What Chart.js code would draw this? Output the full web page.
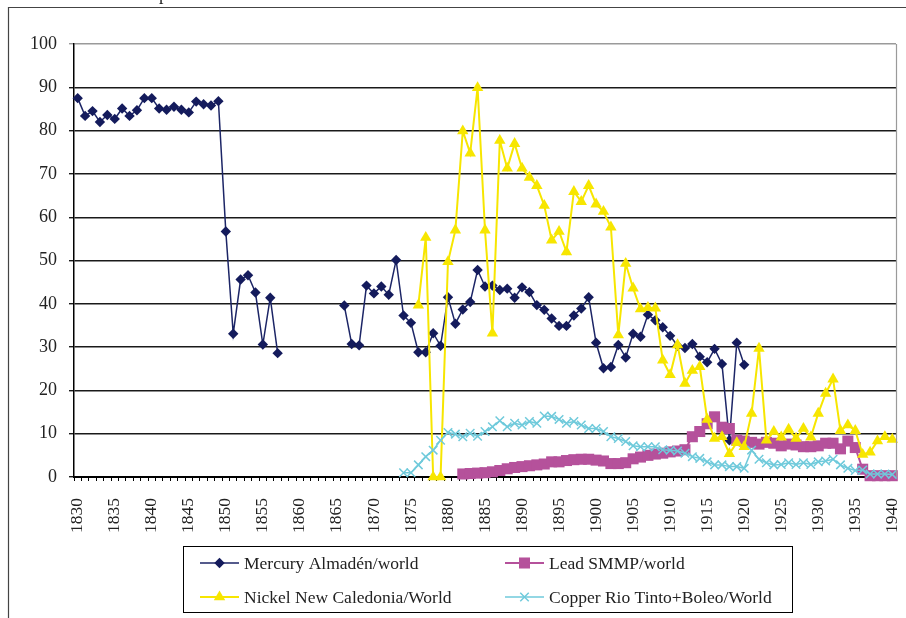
<!DOCTYPE html>
<html><head><meta charset="utf-8">
<script src="https://cdn.jsdelivr.net/npm/chart.js@4.4.1/dist/chart.umd.min.js"></script>
<style>html,body{margin:0;padding:0;background:#fff;overflow:hidden}canvas{display:block}</style>
</head><body>
<canvas id="c" width="906" height="618"></canvas>
<script>
// Categories: years 1830..1940
const firstYear = 1830, lastYear = 1940;
const years = [];
for (let y = firstYear; y <= lastYear; y++) years.push(String(y));

const seriesNames = ['Mercury Almadén/world', 'Lead SMMP/world', 'Nickel New Caledonia/World', 'Copper Rio Tinto+Boleo/World'];
const yTicks = [0, 10, 20, 30, 40, 50, 60, 70, 80, 90, 100];

// Mercury: Almadén share of world (%), from 1830 (null = no data)
const mercuryStart = 1830;
const mercury = [87.5, 83.4, 84.5, 82.0, 83.6, 82.7, 85.1, 83.4, 84.7, 87.5,
  87.5, 85.1, 84.8, 85.5, 84.8, 84.2, 86.7, 86.1, 85.8, 86.8,
  56.7, 33.1, 45.6, 46.6, 42.6, 30.6, 41.4, 28.6,
  null, null, null, null, null, null, null, null,
  39.6, 30.7, 30.4, 44.2, 42.4, 44.0, 42.1, 50.1, 37.3, 35.6,
  28.8, 28.8, 33.2, 30.3, 41.5, 35.4, 38.7, 40.4, 47.8, 44.0,
  44.2, 43.2, 43.5, 41.4, 43.8, 42.7, 39.7, 38.6, 36.6, 34.9,
  34.9, 37.3, 38.9, 41.5, 31.0, 25.1, 25.4, 30.5, 27.6, 33.1,
  32.4, 37.5, 36.2, 34.6, 32.6, 30.3, 29.8, 30.7, 27.8, 26.5,
  29.6, 26.1, 8.5, 31.0, 25.9];

// Lead: SMMP share of world (%), from 1882
const leadStart = 1882;
const lead = [0.7, 0.8, 0.9, 1.0, 1.2, 1.5, 1.9, 2.2, 2.4, 2.6,
  2.8, 3.0, 3.5, 3.5, 3.8, 4.0, 4.1, 4.1, 3.9, 3.7,
  3.1, 3.1, 3.3, 4.2, 4.6, 5.0, 5.3, 5.5, 5.8, 6.0,
  6.3, 9.3, 10.5, 12.3, 13.9, 11.5, 11.2, 8.5, 8.3, 8.0,
  7.6, 8.0, 7.8, 7.2, 7.6, 7.4, 7.0, 7.0, 7.2, 7.8,
  7.8, 6.5, 8.3, 6.8, 1.8, 0.3, 0.3, 0.3, 0.3];

// Nickel: New Caledonia share of world (%), from 1876
const nickelStart = 1876;
const nickel = [39.7, 55.3, 0, 0, 49.7, 57.0, 79.9, 74.8, 89.9, 57.0,
  33.2, 77.7, 71.3, 77.0, 71.3, 69.2, 67.3, 62.7, 54.7, 56.7,
  52.0, 65.9, 63.6, 67.3, 63.0, 61.3, 57.7, 32.8, 49.3, 43.6,
  38.8, 39.1, 39.0, 27.0, 23.6, 30.5, 21.6, 24.6, 25.5, 13.3,
  8.9, 9.3, 5.4, 7.9, 7.0, 14.7, 29.7, 8.5, 10.5, 9.2,
  11.0, 8.9, 11.2, 9.2, 14.7, 19.3, 22.6, 10.7, 12.0, 10.7,
  5.2, 5.7, 8.3, 9.3, 8.7];

// Copper: Rio Tinto + Boleo share of world (%), from 1874
const copperStart = 1874;
const copper = [1.0, 1.0, 2.8, 4.7, 6.2, 8.5, 10.3, 9.9, 9.3, 10.1,
  9.4, 10.5, 11.6, 13.0, 11.6, 12.4, 12.0, 12.8, 12.4, 14.1,
  14.0, 13.3, 12.4, 12.8, 12.0, 11.2, 11.2, 10.5, 9.3, 8.9,
  8.2, 7.2, 7.0, 7.0, 7.0, 6.3, 6.2, 6.0, 5.5, 4.7,
  4.3, 3.5, 2.8, 2.8, 2.4, 2.4, 2.0, 6.2, 4.1, 3.3,
  2.8, 2.9, 3.3, 2.9, 3.3, 2.9, 3.5, 3.7, 4.1, 2.8,
  2.0, 1.5, 1.6, 0.7, 0.7, 0.7, 0.6];

function toFull(start, vals) {
  const out = years.map(() => null);
  vals.forEach((v, i) => { out[start - firstYear + i] = v; });
  return out;
}

const FONT = '"Liberation Serif", "Times New Roman", serif';
const styles = [
  { color: '#141b5c', line: '#1c2566', point: 'rectRot', r: 5.2, bw: 1.5 },
  { color: '#b5519b', line: '#b5519b', point: 'rect', r: 7.8, bw: 2 },
  { color: '#f7e600', line: '#f7e600', point: 'triangle', r: 6.6, bw: 2 },
  { color: '#6fcadb', line: '#6fcadb', point: 'crossRot', r: 6, bw: 1.5 }
];
const allData = [toFull(mercuryStart, mercury), toFull(leadStart, lead), toFull(nickelStart, nickel), toFull(copperStart, copper)];

const datasets = allData.map((d, i) => {
  const s = styles[i];
  return {
    label: seriesNames[i],
    data: d,
    borderColor: s.line,
    backgroundColor: s.color,
    borderWidth: s.bw,
    pointStyle: s.point,
    pointRadius: s.r,
    pointHoverRadius: s.r,
    pointBackgroundColor: s.color,
    pointBorderColor: s.color,
    pointBorderWidth: s.point === 'crossRot' ? 1.5 : 0,
    tension: 0,
    spanGaps: false,
    clip: false,
    order: 3 - i
  };
});

const framePlugin = {
  id: 'frame',
  afterDraw(chart) {
    const ctx = chart.ctx;
    const a = chart.chartArea;
    ctx.save();
    // outer frame
    ctx.strokeStyle = '#444';
    ctx.lineWidth = 1.2;
    ctx.beginPath();
    ctx.moveTo(8.5, 618); ctx.lineTo(8.5, 7.5); ctx.lineTo(906, 7.5);
    ctx.stroke();
    // plot area right border
    ctx.strokeStyle = '#9a9a9a';
    ctx.lineWidth = 1.2;
    ctx.beginPath();
    ctx.moveTo(Math.round(a.right) + 0.5, a.top); ctx.lineTo(Math.round(a.right) + 0.5, a.bottom);
    ctx.stroke();
    // cut-off title glyph
    ctx.fillStyle = '#222';
    ctx.font = '18px ' + FONT;
    ctx.textBaseline = 'alphabetic';
    ctx.textAlign = 'left';
    ctx.fillText('p', 159, -0.5);
    // legend
    const bx = 183.5, by = 546.5, bw = 609, bh = 66;
    ctx.fillStyle = '#fff';
    ctx.fillRect(bx, by, bw, bh);
    ctx.strokeStyle = '#000';
    ctx.lineWidth = 1;
    ctx.strokeRect(bx, by, bw, bh);
    const pos = [[200, 563], [505, 563], [200, 597], [505, 597]];
    ctx.font = '17.5px ' + FONT;
    ctx.textBaseline = 'middle';
    chart.data.datasets.forEach((ds, i) => {
      const [lx, ly] = pos[i];
      const s = styles[i];
      ctx.strokeStyle = s.line;
      ctx.lineWidth = s.bw;
      ctx.beginPath(); ctx.moveTo(lx, ly); ctx.lineTo(lx + 39, ly); ctx.stroke();
      ctx.fillStyle = s.color;
      ctx.strokeStyle = s.color;
      ctx.lineWidth = 1.5;
      Chart.helpers.drawPoint(ctx, { pointStyle: s.point, radius: s.r, rotation: 0, borderWidth: s.point === 'crossRot' ? 1.5 : 0 }, lx + 19.5, ly);
      ctx.fillStyle = '#222';
      ctx.fillText(ds.label, lx + 44, ly + 1);
    });
    ctx.restore();
  }
};

new Chart(document.getElementById('c'), {
  type: 'line',
  data: { labels: years, datasets },
  options: {
    responsive: false,
    animation: false,
    devicePixelRatio: 1,
    layout: { padding: { top: 44, right: 10, left: 0, bottom: 0 } },
    plugins: { legend: { display: false }, tooltip: { enabled: false }, title: { display: false } },
    scales: {
      x: {
        type: 'category',
        offset: true,
        grid: { display: true, drawOnChartArea: false, offset: true, tickLength: 4, color: '#000', lineWidth: 1 },
        border: { display: true, color: '#000', width: 2 },
        ticks: {
          autoSkip: false, minRotation: 90, maxRotation: 90, padding: 17,
          color: '#222', font: { family: FONT, size: 17.5 },
          callback: function (v, i) { const y = Number(this.getLabelForValue(v)); return y % 5 === 0 ? String(y) : ''; }
        },
        afterFit: s => { s.height = 141; s.paddingLeft = 0; s.paddingRight = 0; s.paddingTop = 0; s.paddingBottom = 0; }
      },
      y: {
        min: 0, max: 100,
        afterBuildTicks: s => { s.ticks = yTicks.map(v => ({ value: v })); },
        grid: {
          color: c => (c.tick && c.tick.value === 100) ? '#9a9a9a' : '#1a1a1a',
          lineWidth: 1.4, tickLength: 5, drawTicks: true
        },
        border: { display: true, color: '#000', width: 1.5 },
        ticks: { padding: 12, color: '#222', font: { family: FONT, size: 18 } },
        afterFit: s => { s.width = 74; }
      }
    }
  },
  plugins: [framePlugin]
});
</script>
</body></html>
